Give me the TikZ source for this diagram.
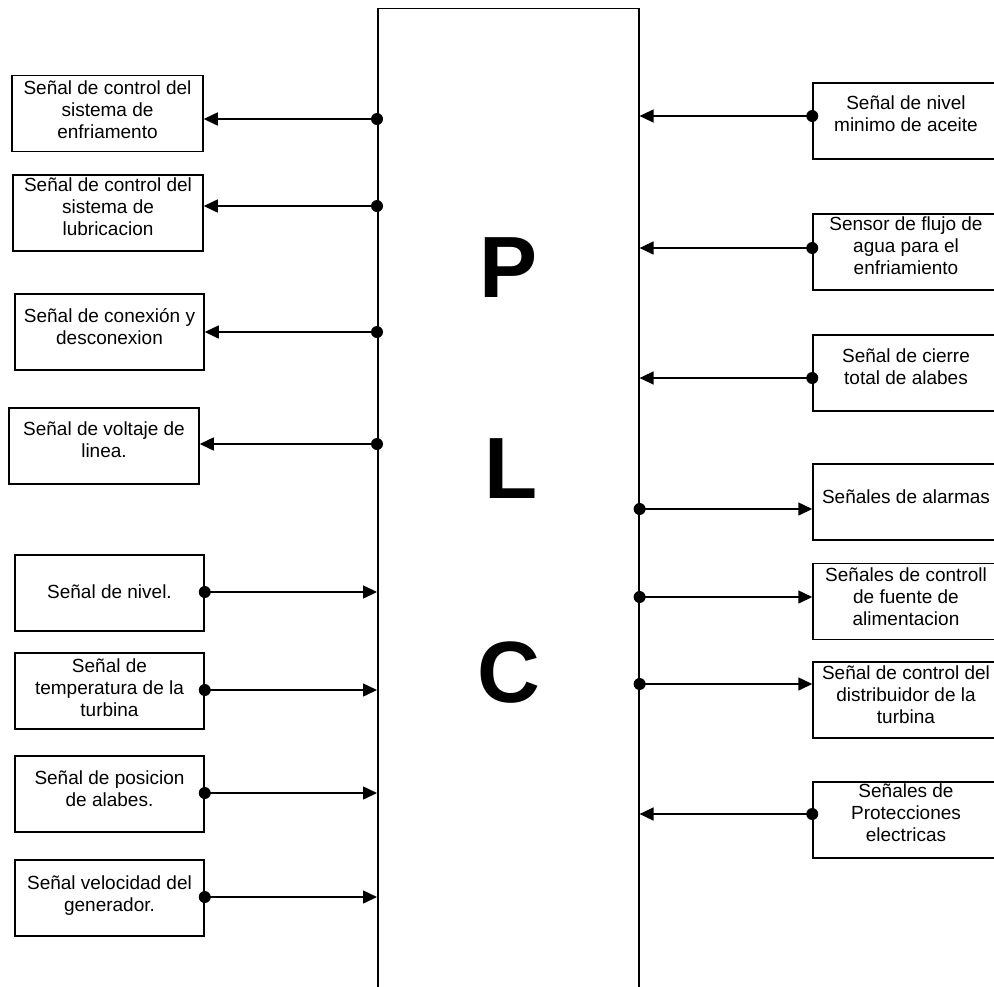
\documentclass[tikz,border=0pt]{standalone}
\usepackage{fontspec}
\setmainfont{Liberation Sans}
\usetikzlibrary{arrows.meta}

\tikzset{
  sigbox/.style={draw, line width=1.5pt, minimum width=#1, minimum height=76pt, inner sep=0pt},
  sigbox/.default=189pt,
  sigtext/.style={align=center, font=\fontsize{19}{22}\selectfont, inner sep=0pt},
  flow/.style={line width=1.5pt, -{Triangle[length=14pt,width=13pt]}},
  jdot/.style={fill=black},
  plcletter/.style={font=\fontsize{87}{87}\selectfont\bfseries, inner sep=0pt, anchor=base},
}

\begin{document}
\begin{tikzpicture}[x=1pt,y=-1pt]
\clip (0,0) rectangle (994,986);

% PLC body (open at the bottom, runs off the page)
\node[draw, line width=1.6pt, minimum width=261pt, minimum height=1000pt, inner sep=0pt, anchor=north west] (plc) at (377,7.5) {};
\node[plcletter] (pP) at (509,297) {P};
\node[plcletter] (pL) at (511,498) {L};
\node[plcletter] (pC) at (509,702) {C};

% Left column: outputs
\node[sigbox=191pt] (L1) at (107.5,113.5) {};
\node[sigtext] (L1t) at ([yshift=4pt]L1.center) {Señal de control del\\sistema de\\enfriamento};
\node[sigbox=190pt] (L2) at (108,213) {};
\node[sigtext] (L2t) at ([yshift=6pt]L2.center) {Señal de control del\\sistema de\\lubricacion};
\node[sigbox] (L3) at (109.5,332) {};
\node[sigtext] (L3t) at ([yshift=5pt]L3.center) {Señal de conexión y\\desconexion};
\node[sigbox=190pt] (L4) at (104,446) {};
\node[sigtext] (L4t) at ([yshift=6pt]L4.center) {Señal de voltaje de\\linea.};
% Left column: inputs
\node[sigbox] (L5) at (109.5,593) {};
\node[sigtext] (L5t) at ([yshift=1pt]L5.center) {Señal de nivel.};
\node[sigbox] (L6) at (109.5,691) {};
\node[sigtext] (L6t) at ([yshift=3pt]L6.center) {Señal de\\temperatura de la\\turbina};
\node[sigbox] (L7) at (109.5,794) {};
\node[sigtext] (L7t) at ([yshift=5pt]L7.center) {Señal de posicion\\de alabes.};
\node[sigbox] (L8) at (109.5,898) {};
\node[sigtext] (L8t) at ([yshift=2pt]L8.center) {Señal velocidad del\\generador.};

% Right column
\node[sigbox=186pt] (R1) at (906,121) {};
\node[sigtext] (R1t) at ([yshift=7pt]R1.center) {Señal de nivel\\minimo de aceite};
\node[sigbox=186pt] (R2) at (906,252) {};
\node[sigtext] (R2t) at ([yshift=6pt]R2.center) {Sensor de flujo de\\agua para el\\enfriamiento};
\node[sigbox=186pt] (R3) at (906,373) {};
\node[sigtext] (R3t) at ([yshift=6pt]R3.center) {Señal de cierre\\total de alabes};
\node[sigbox=186pt] (R4) at (906,502) {};
\node[sigtext] (R4t) at ([yshift=5pt]R4.center) {Señales de alarmas};
\node[sigbox=186pt] (R5) at (906,601.5) {};
\node[sigtext] (R5t) at ([yshift=5pt]R5.center) {Señales de controll\\de fuente de\\alimentacion};
\node[sigbox=186pt] (R6) at (906,700) {};
\node[sigtext] (R6t) at ([yshift=5pt]R6.center) {Señal de control del\\distribuidor de la\\turbina};
\node[sigbox=186pt] (R7) at (906,820) {};
\node[sigtext] (R7t) at ([yshift=7pt]R7.center) {Señales de\\Protecciones\\electricas};

% Signal levels
\coordinate (a1) at (0,119);  \coordinate (a2) at (0,206);
\coordinate (a3) at (0,332);  \coordinate (a4) at (0,444);
\coordinate (a5) at (0,592);  \coordinate (a6) at (0,690);
\coordinate (a7) at (0,793);  \coordinate (a8) at (0,897);
\coordinate (b1) at (0,116);  \coordinate (b2) at (0,248);
\coordinate (b3) at (0,378);  \coordinate (b4) at (0,509);
\coordinate (b5) at (0,597);  \coordinate (b6) at (0,684);
\coordinate (b7) at (0,814);

% PLC outputs to the left
\foreach \i in {1,2,3,4}{
  \draw[flow] (a\i -| plc.west) -- (a\i -| L\i.east);
  \fill[jdot] (a\i -| plc.west) circle[radius=6pt];
}
% Inputs from the left
\foreach \i in {5,6,7,8}{
  \draw[flow] (a\i -| L\i.east) -- (a\i -| plc.west);
  \fill[jdot] (a\i -| L\i.east) circle[radius=6pt];
}
% Inputs from the right
\foreach \i in {1,2,3,7}{
  \draw[flow] (b\i -| R\i.west) -- (b\i -| plc.east);
  \fill[jdot] (b\i -| R\i.west) circle[radius=6pt];
}
% PLC outputs to the right
\foreach \i in {4,5,6}{
  \draw[flow] (b\i -| plc.east) -- (b\i -| R\i.west);
  \fill[jdot] (b\i -| plc.east) circle[radius=6pt];
}
\end{tikzpicture}
\end{document}
